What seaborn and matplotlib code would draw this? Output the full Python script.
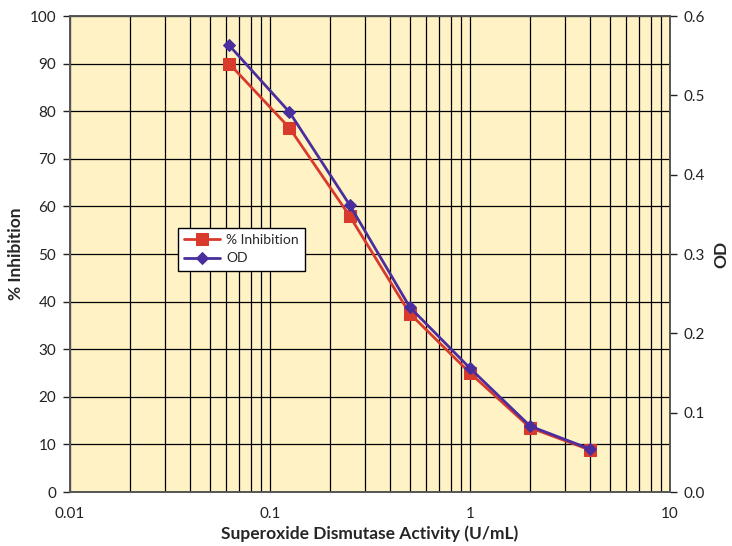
import numpy as np
import pandas as pd
import matplotlib
matplotlib.use("Agg")
import matplotlib.pyplot as plt
import seaborn as sns
from matplotlib.ticker import LogLocator, FixedLocator, NullFormatter

activity = [0.0625, 0.125, 0.25, 0.5, 1, 2, 4]
inhibition = [90.0, 76.5, 58.0, 37.5, 25.0, 13.5, 8.8]
od = [0.563, 0.479, 0.362, 0.233, 0.156, 0.083, 0.054]
x_ticks = [0.01, 0.1, 1, 10]
x_labels = ["0.01", "0.1", "1", "10"]
left_ticks = list(range(0, 101, 10))
right_ticks = [0.0, 0.1, 0.2, 0.3, 0.4, 0.5, 0.6]

sns.set_theme(style="white")
plt.rcParams['font.family'] = ['Lato', 'DejaVu Sans']

RED = "#D83A2C"
PURPLE = "#4A2E9E"
BG = "#FFF3C6"

fig = plt.figure(figsize=(7.32, 5.46), dpi=100)
ax = fig.add_axes([70/732, 54/546, 600/732, 476/546])
ax.set_facecolor(BG)
ax2 = ax.twinx()

df1 = pd.DataFrame({"x": activity, "y": inhibition})
df2 = pd.DataFrame({"x": activity, "y": od})

sns.lineplot(data=df1, x="x", y="y", ax=ax, color=RED, marker="s", markersize=9,
             markeredgecolor=RED, linewidth=2, label="% Inhibition", legend=False, zorder=3)
sns.lineplot(data=df2, x="x", y="y", ax=ax2, color=PURPLE, marker="D", markersize=6,
             markeredgecolor=PURPLE, linewidth=2, label="OD", legend=False, zorder=3)

ax.set_xscale("log")
ax.set_xlim(0.01, 10)
ax.set_ylim(0, 100)
ax2.set_ylim(0, 0.6)

ax.xaxis.set_major_locator(FixedLocator(x_ticks))
ax.set_xticklabels(x_labels)
ax.xaxis.set_minor_locator(LogLocator(base=10, subs=np.arange(2, 10)))
ax.xaxis.set_minor_formatter(NullFormatter())
ax.set_yticks(left_ticks)
ax2.set_yticks(right_ticks)
ax2.set_yticklabels([f"{v:.1f}" for v in right_ticks])

ax.grid(True, which="both", axis="x", color="black", linewidth=0.9)
ax.grid(True, which="major", axis="y", color="black", linewidth=0.9)
ax.set_axisbelow(True)

for a in (ax, ax2):
    for s in a.spines.values():
        s.set_color("#555555")
        s.set_linewidth(1.2)
    a.tick_params(axis="both", which="major", labelsize=11, colors="#222222",
                  length=5, width=1, direction="out")
ax.tick_params(axis="x", which="major", direction="inout", length=8, pad=7)
ax.tick_params(axis="x", which="minor", length=0)
ax.tick_params(axis="y", pad=5)
ax2.tick_params(axis="y", pad=5)

ax.set_xlabel("Superoxide Dismutase Activity (U/mL)", fontsize=12.5, fontweight="bold", labelpad=3)
ax.set_ylabel("% Inhibition", fontsize=12.5, fontweight="bold", labelpad=4)
ax2.set_ylabel("OD", fontsize=12.5, fontweight="bold", labelpad=6)

h1, l1 = ax.get_legend_handles_labels()
h2, l2 = ax2.get_legend_handles_labels()
leg = ax2.legend(h1 + h2, l1 + l2, loc="upper left", bbox_to_anchor=(108/600, (492-228)/476),
                 borderaxespad=0, frameon=True, fancybox=False, edgecolor="black",
                 facecolor="white", fontsize=10, handlelength=2.6, handletextpad=0.4,
                 borderpad=0.45, labelspacing=0.45)
leg.get_frame().set_linewidth(1.0)
leg.get_frame().set_alpha(1)

fig.savefig("out.png", dpi=100, facecolor="white")
